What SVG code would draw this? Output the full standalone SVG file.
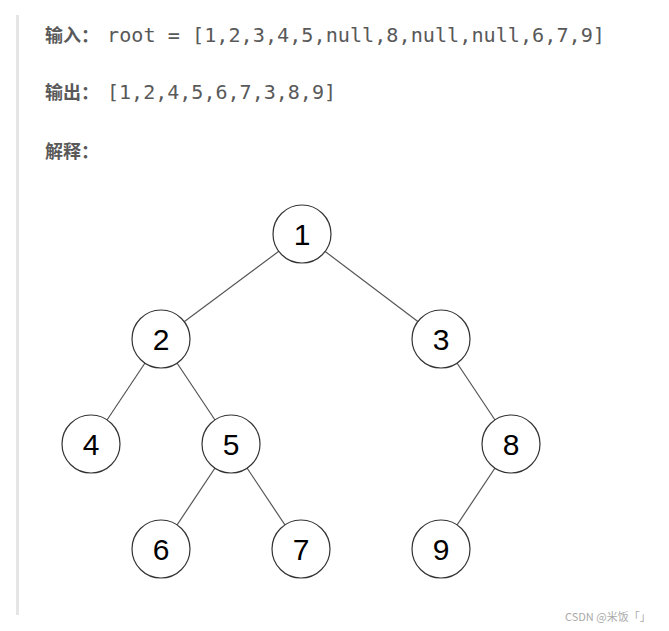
<svg xmlns="http://www.w3.org/2000/svg" width="669" height="631" viewBox="0 0 669 631">
<style>
.lb{font-family:"Noto Sans CJK SC",sans-serif;font-weight:bold;font-size:18px;fill:#595959}
.cd{font-family:"DejaVu Sans Mono",monospace;font-size:19px;fill:#595959}
.n circle{fill:#fff;stroke:#333;stroke-width:1.2}
.n text{font-family:"Liberation Sans",Arial,sans-serif;font-size:30px;fill:#000;text-anchor:middle}
.e line{stroke:#555;stroke-width:1.2}
</style>
<rect width="669" height="631" fill="#fff"/>
<rect x="16" y="15" width="3" height="600" fill="#e5e5e5"/>
<text class="lb" x="45" y="42">输入：</text>
<text class="cd" x="107" y="42" textLength="498" lengthAdjust="spacingAndGlyphs">root = [1,2,3,4,5,null,8,null,null,6,7,9]</text>
<text class="lb" x="45" y="99">输出：</text>
<text class="cd" x="107" y="99" textLength="229" lengthAdjust="spacingAndGlyphs">[1,2,4,5,6,7,3,8,9]</text>
<text class="lb" x="45" y="158">解释：</text>
<g class="e" id="edges">
<line x1="302" y1="234" x2="161" y2="339"/>
<line x1="302" y1="234" x2="441" y2="339"/>
<line x1="161" y1="339" x2="91" y2="444"/>
<line x1="161" y1="339" x2="231" y2="444"/>
<line x1="441" y1="339" x2="511" y2="444"/>
<line x1="231" y1="444" x2="161" y2="549"/>
<line x1="231" y1="444" x2="301" y2="549"/>
<line x1="511" y1="444" x2="441" y2="549"/>
</g>
<g class="n" id="n1"><circle cx="302" cy="234" r="29"/><text x="302" y="245">1</text></g>
<g class="n" id="n2"><circle cx="161" cy="339" r="29"/><text x="161" y="350">2</text></g>
<g class="n" id="n3"><circle cx="441" cy="339" r="29"/><text x="441" y="350">3</text></g>
<g class="n" id="n4"><circle cx="91" cy="444" r="29"/><text x="91" y="455">4</text></g>
<g class="n" id="n5"><circle cx="231" cy="444" r="29"/><text x="231" y="455">5</text></g>
<g class="n" id="n8"><circle cx="511" cy="444" r="29"/><text x="511" y="455">8</text></g>
<g class="n" id="n6"><circle cx="161" cy="549" r="29"/><text x="161" y="560">6</text></g>
<g class="n" id="n7"><circle cx="301" cy="549" r="29"/><text x="301" y="560">7</text></g>
<g class="n" id="n9"><circle cx="441" cy="549" r="29"/><text x="441" y="560">9</text></g>
<text x="565" y="621" font-family="Noto Sans CJK SC,sans-serif" font-size="11" fill="#aaa">CSDN @米饭「」</text>
</svg>
